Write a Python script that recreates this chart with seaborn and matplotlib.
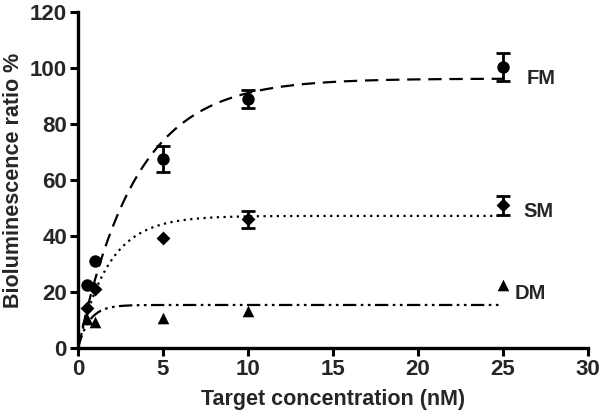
import numpy as np
import pandas as pd
import matplotlib
matplotlib.use("Agg")
import matplotlib.pyplot as plt
import seaborn as sns

# ---- data ----
conc = [0.5, 1, 5, 10, 25]
fm = [22.5, 31, 67.5, 89, 100.5]
fm_err = [0, 0, 4.5, 3.2, 5]
sm = [14.4, 21, 39.4, 46, 51]
sm_err = [0, 0, 0, 3, 3.4]
dm = [10.5, 9.4, 10.7, 13.2, 22.5]
dm_err = [0, 0, 0, 0, 0]

series_names = ["FM", "SM", "DM"]
# one-phase association fit parameters (plateau, rate constant)
fit_plateau = [96.2, 47.2, 15.4]
fit_rate = [0.293, 0.556, 1.5]

sns.set_theme(style="ticks")
plt.rcParams['font.family'] = ['Liberation Sans', 'DejaVu Sans']
plt.rcParams['font.weight'] = 'bold'

fig = plt.figure(figsize=(6, 4.11), dpi=100)
ax = fig.add_axes([0.13, 0.153, 0.85, 0.818])

df = pd.DataFrame({
    "conc": conc * 3,
    "value": fm + sm + dm,
    "err": fm_err + sm_err + dm_err,
    "series": sum([[s] * len(conc) for s in series_names], []),
})

# fitted curves
xs = np.linspace(0, 25, 300)
curve_rows = []
for name, p, k in zip(series_names, fit_plateau, fit_rate):
    for x in xs:
        curve_rows.append((x, p * (1 - np.exp(-k * x)), name))
cdf = pd.DataFrame(curve_rows, columns=["conc", "value", "series"])

styles = {"FM": (0, (6, 3.5)), "SM": (0, (1, 2)), "DM": (0, (6, 2, 1.2, 2, 1.2, 2))}
for name in series_names:
    sub = cdf[cdf.series == name]
    sns.lineplot(data=sub, x="conc", y="value", ax=ax, color="black",
                 linewidth=1.6, linestyle=styles[name], legend=False)

markers = {"FM": "o", "SM": "D", "DM": "^"}
msize = {"FM": 80, "SM": 50, "DM": 70}
for name in series_names:
    sub = df[df.series == name]
    e = sub[sub.err > 0]
    if len(e):
        ax.errorbar(e.conc, e.value, yerr=e.err, fmt="none", ecolor="black",
                    elinewidth=2, capsize=5, capthick=2, zorder=3)
    sns.scatterplot(data=sub, x="conc", y="value", ax=ax, marker=markers[name],
                    s=msize[name], color="black", edgecolor="black", linewidth=0,
                    zorder=4, legend=False)

# series labels
ax.text(26.4, 96.2, "FM", fontsize=14.5, fontweight="bold", va="center", ha="left")
ax.text(26.2, 48.6, "SM", fontsize=14.5, fontweight="bold", va="center", ha="left")
ax.text(25.7, 19.6, "DM", fontsize=14.5, fontweight="bold", va="center", ha="left")

ax.set_xlim(0, 30)
ax.set_ylim(0, 120)
ax.set_xticks([0, 5, 10, 15, 20, 25, 30])
ax.set_yticks([0, 20, 40, 60, 80, 100, 120])
ax.set_xlabel("Target concentration (nM)", fontsize=15.5, fontweight="bold", labelpad=6)
ax.set_ylabel("Bioluminescence ratio %", fontsize=15.5, fontweight="bold", labelpad=4)
ax.tick_params(axis="both", labelsize=16, width=2.2, length=6, direction="out",
               color="black", pad=2)
for lbl in ax.get_xticklabels() + ax.get_yticklabels():
    lbl.set_fontweight("bold")
for s in ["left", "bottom"]:
    ax.spines[s].set_linewidth(2.4)
    ax.spines[s].set_color("black")
sns.despine(ax=ax)

fig.savefig("out.png", dpi=100)
